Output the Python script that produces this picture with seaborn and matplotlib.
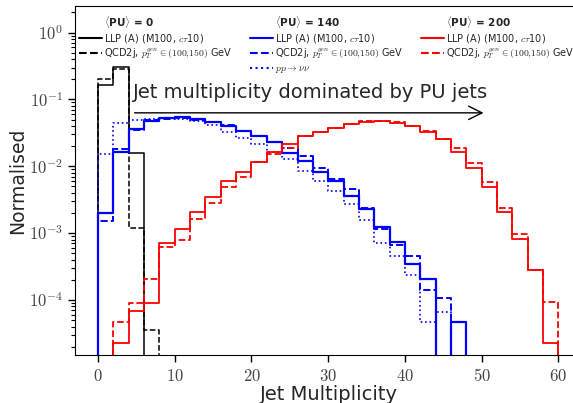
import pandas as pd
import matplotlib
matplotlib.use("Agg")
import matplotlib.pyplot as plt
from matplotlib.lines import Line2D
from matplotlib.legend import Legend
from matplotlib.font_manager import FontProperties
from matplotlib.ticker import LogLocator, NullFormatter
import seaborn as sns

sns.set_style("ticks")
plt.rcParams['font.family'] = ['DejaVu Sans']
plt.rcParams['mathtext.fontset'] = 'cm'

# bin edges of the jet multiplicity histograms (2 jets per bin, one empty bin on each side)
edges = list(range(-2, 64, 2))
centers = [e + 1 for e in edges[:-1]]

# <PU> = 0
llp_pu0 = [0, 0.166, 0.31, 0.016] + [0] * 28
qcd_pu0 = [0, 0.20, 0.29, 0.0012, 3.5e-5] + [0] * 27

# <PU> = 140
llp_pu140 = [0, 0.0020, 0.0166, 0.0363, 0.0468, 0.0525, 0.0537, 0.0513, 0.0457, 0.0407,
             0.0339, 0.0282, 0.0234, 0.0158, 0.0120, 0.0083, 0.0060, 0.0036, 0.0023,
             0.00123, 0.00074, 0.00035, 0.000204, 0, 4.7e-5, 0, 0, 0, 0, 0, 0, 0]
qcd_pu140 = [0, 0.0015, 0.0182, 0.0347, 0.049, 0.0513, 0.0525, 0.050, 0.0457, 0.0417,
             0.0339, 0.0282, 0.0234, 0.0186, 0.0141, 0.0093, 0.0065, 0.0046, 0.0024,
             0.00115, 0.00066, 0.00046, 0.00014, 0.000107, 0, 0, 0, 0, 0, 0, 0, 0]
ppvv_pu140 = [0, 0.0155, 0.0437, 0.050, 0.0513, 0.0525, 0.0513, 0.0468, 0.0417, 0.0324,
              0.0269, 0.0214, 0.0166, 0.0129, 0.0085, 0.0060, 0.0042, 0.00275, 0.00158,
              0.00071, 0.00046, 0.000234, 4.7e-5, 6.5e-5, 0, 0, 0, 0, 0, 0, 0, 0]

# <PU> = 200
llp_pu200 = [0, 0, 2.3e-5, 6.9e-5, 9.1e-5, 0.00071, 0.00115, 0.0021, 0.0035, 0.0060,
             0.0083, 0.0117, 0.0162, 0.0214, 0.0282, 0.0324, 0.0372, 0.0427, 0.0457,
             0.0468, 0.0447, 0.0407, 0.0331, 0.0257, 0.0166, 0.0093, 0.0049, 0.0021,
             0.00081, 0.00028, 2.3e-5, 0]
qcd_pu200 = [0, 0, 4.6e-5, 9.1e-5, 0.000204, 0.00062, 0.00079, 0.00162, 0.0028, 0.0049,
             0.0069, 0.0117, 0.0155, 0.0186, 0.0282, 0.0324, 0.0372, 0.0427, 0.0468,
             0.0479, 0.0457, 0.0407, 0.0339, 0.0257, 0.0186, 0.011, 0.0058, 0.0024,
             0.00098, 0.00028, 9.3e-5, 0]

xticks = [0, 10, 20, 30, 40, 50, 60]
yticks = [1e0, 1e-1, 1e-2, 1e-3, 1e-4]
ytick_labels = [r'$10^{0}$', r'$10^{-1}$', r'$10^{-2}$', r'$10^{-3}$', r'$10^{-4}$']

llp_label = r'LLP (A) (M100, $c\tau$10)'
qcd_label = r'QCD2j, $p_T^{gen} \in (100{,}150)$ GeV'
pp_label = r'$pp \rightarrow \nu\nu$'

series = [
    (llp_pu0, 'black', '-', 1.1),
    (qcd_pu0, 'black', '--', 1.1),
    (llp_pu140, 'blue', '-', 1.6),
    (qcd_pu140, 'blue', '--', 1.4),
    (ppvv_pu140, 'blue', ':', 1.2),
    (llp_pu200, 'red', '-', 1.3),
    (qcd_pu200, 'red', '--', 1.3),
]

fig = plt.figure(figsize=(5.73, 4.03), dpi=100)
ax = fig.add_axes([75 / 573, 48 / 403, 508 / 573, 349 / 403])

for vals, col, ls, lw in series:
    df = pd.DataFrame({'njet': centers, 'w': vals})
    sns.histplot(data=df, x='njet', weights='w', bins=edges, element='step',
                 fill=False, color=col, linestyle=ls, linewidth=lw, ax=ax)

ax.set_yscale('log')
ax.set_ylim(1.5e-5, 2.5)
ax.set_xlim(-3, 63.2)
ax.set_xticks(xticks, labels=[f'${t}$' for t in xticks])
ax.set_yticks(yticks, labels=ytick_labels)
ax.yaxis.set_minor_locator(LogLocator(base=10, subs=range(2, 10), numticks=20))
ax.yaxis.set_minor_formatter(NullFormatter())
ax.tick_params(axis='both', which='major', labelsize=12, labelcolor='#444444',
               direction='out', length=5, width=1, color='black')
ax.tick_params(axis='y', which='minor', direction='out', length=3, width=0.8, color='black')
ax.set_xlabel('Jet Multiplicity', fontsize=14, labelpad=0)
ax.set_ylabel('Normalised', fontsize=13.5, labelpad=1.5)
for s in ax.spines.values():
    s.set_color('black')

# arrow + annotation
ax.annotate('', xy=(50.6, 0.063), xytext=(4.4, 0.063),
            arrowprops=dict(arrowstyle='->', lw=1.0, color='black', mutation_scale=24))
ax.text(4.6, 0.128, 'Jet multiplicity dominated by PU jets', fontsize=14, va='center')

# three legend blocks, one per pile-up scenario
blank = Line2D([], [], color='none')
blocks = [
    (0.008, r'$\langle$PU$\rangle$ = 0',
     [Line2D([], [], color='black', ls='-'), Line2D([], [], color='black', ls='--')],
     [llp_label, qcd_label]),
    (0.344, r'$\langle$PU$\rangle$ = 140',
     [Line2D([], [], color='blue', ls='-'), Line2D([], [], color='blue', ls='--'),
      Line2D([], [], color='blue', ls=':')],
     [llp_label, qcd_label, pp_label]),
    (0.681, r'$\langle$PU$\rangle$ = 200',
     [Line2D([], [], color='red', ls='-'), Line2D([], [], color='red', ls='--')],
     [llp_label, qcd_label]),
]
for xa, head, hs, ls_ in blocks:
    leg = Legend(ax, [blank] + hs, [head] + ls_, loc='upper left',
                 bbox_to_anchor=(xa, 0.978), frameon=False, fontsize=7,
                 handlelength=2.4, handletextpad=0.15, labelspacing=0.2,
                 borderpad=0, borderaxespad=0)
    leg.get_texts()[0].set_fontproperties(FontProperties(weight='bold', size=7.5))
    ax.add_artist(leg)

plt.savefig('out.png', dpi=100)
